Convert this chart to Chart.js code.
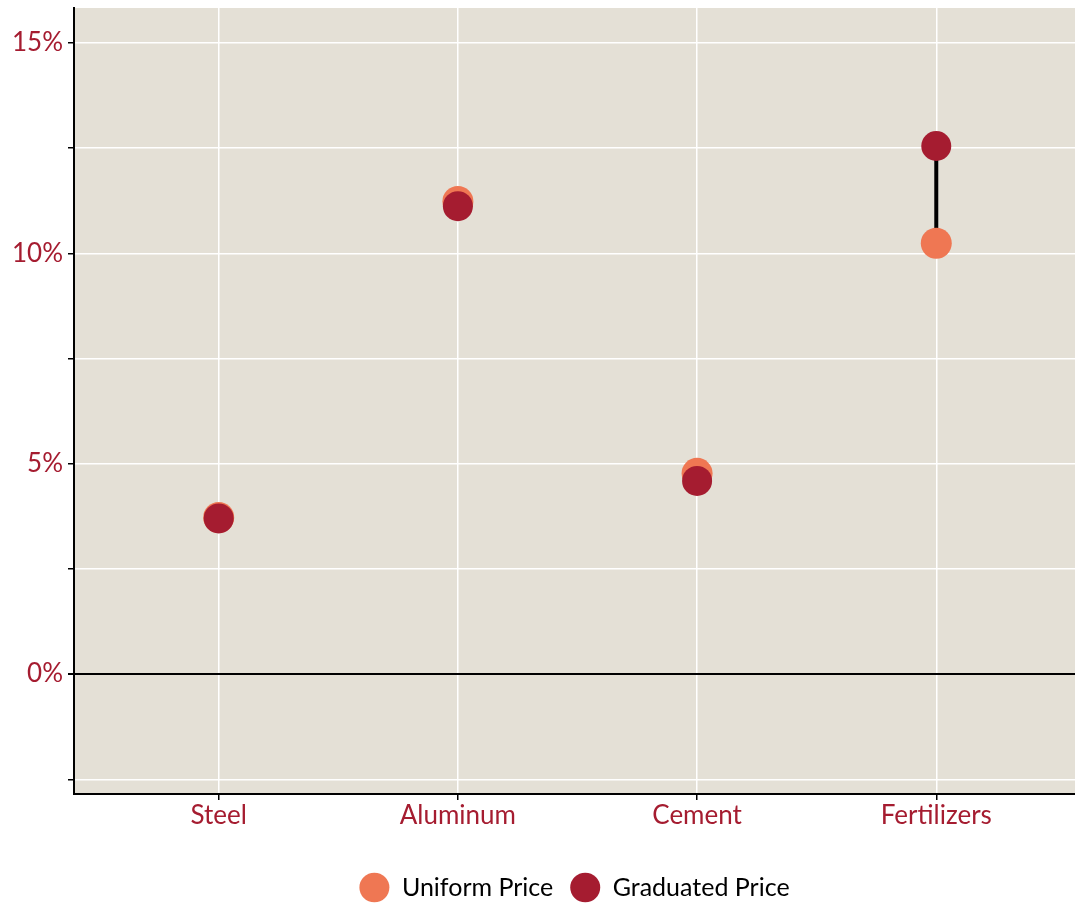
<!DOCTYPE html>
<html>
<head>
<meta charset="utf-8">
<script src="https://cdn.jsdelivr.net/npm/chart.js@4/dist/chart.umd.min.js"></script>
<style>
  html, body { margin: 0; padding: 0; background: #fff; }
  #wrap { width: 1075px; height: 904px; }
</style>
</head>
<body>
<div id="wrap"><canvas id="grafico"></canvas></div>
<script>
// data (percent)
var categories = ['Steel', 'Aluminum', 'Cement', 'Fertilizers'];
var uniformPrice = [3.72, 11.23, 4.77, 10.24];
var graduatedPrice = [3.70, 11.12, 4.59, 12.55];
var yTicks = [-2.5, 0, 2.5, 5, 7.5, 10, 12.5, 15];

var crimson = '#A51C30';
var orange = '#EF7753';
var fontFam = 'Lato, "Open Sans", sans-serif';

// plot panel background
var panelBg = {
    id: 'panelBg',
    beforeDraw: function(chart) {
        var a = chart.chartArea, c = chart.ctx;
        c.save();
        c.fillStyle = '#E4E0D6';
        c.fillRect(a.left, a.top, a.right - a.left, a.bottom - a.top);
        c.restore();
    }
};

function pts(vals) {
    return vals.map(function(v, i) { return {x: i + 1, y: v}; });
}

var datasets = [
    {
        type: 'scatter',
        label: 'Graduated Price',
        data: pts(graduatedPrice),
        backgroundColor: crimson,
        borderColor: crimson,
        pointRadius: 15,
        borderWidth: 0,
        order: 1
    },
    {
        type: 'scatter',
        label: 'Uniform Price',
        data: pts(uniformPrice),
        backgroundColor: orange,
        borderColor: orange,
        pointRadius: 15.5,
        borderWidth: 0,
        order: 2
    }
];

// black segment between the two prices of each category
categories.forEach(function(cat, i) {
    datasets.push({
        type: 'line',
        label: 'seg ' + cat,
        data: [{x: i + 1, y: uniformPrice[i]}, {x: i + 1, y: graduatedPrice[i]}],
        borderColor: '#000',
        borderWidth: 4,
        pointRadius: 0,
        fill: false,
        order: 3
    });
});

var ctx = document.getElementById('grafico').getContext('2d');
var grafico = new Chart(ctx, {
    type: 'scatter',
    data: { datasets: datasets },
    plugins: [panelBg],
    options: {
        responsive: true,
        maintainAspectRatio: false,
        animation: false,
        events: [],
        layout: { autoPadding: false, padding: { top: 8, right: 0, left: 0, bottom: -6 } },
        scales: {
            x: {
                type: 'linear',
                min: 0.395,
                max: 4.58,
                afterBuildTicks: function(s) {
                    s.ticks = categories.map(function(c, i) { return {value: i + 1}; });
                },
                afterFit: function(s) {
                    s.paddingLeft = 0;
                    s.paddingRight = 0;
                    s.height = 64;
                },
                ticks: {
                    color: crimson,
                    font: { family: fontFam, size: 26 },
                    padding: 0,
                    callback: function(v) { return categories[v - 1]; }
                },
                grid: {
                    color: '#FFFFFF',
                    lineWidth: 1.5,
                    tickColor: '#000',
                    tickLength: 6
                },
                border: { display: true, color: '#000', width: 2 }
            },
            y: {
                min: -2.85,
                max: 15.83,
                afterBuildTicks: function(s) {
                    s.ticks = yTicks.map(function(v) { return {value: v}; });
                },
                afterFit: function(s) {
                    s.width = 74;
                    s.paddingTop = 0;
                    s.paddingBottom = 0;
                },
                ticks: {
                    color: crimson,
                    font: { family: fontFam, size: 26 },
                    padding: 5,
                    callback: function(v) { return v % 5 === 0 ? v + '%' : ''; }
                },
                grid: {
                    color: function(c) { return c.tick && c.tick.value === 0 ? '#000' : '#FFFFFF'; },
                    lineWidth: function(c) { return c.tick && c.tick.value === 0 ? 2 : 1.5; },
                    tickColor: '#000',
                    tickLength: 6
                },
                border: { display: true, color: '#000', width: 2 }
            }
        },
        plugins: {
            tooltip: { enabled: false },
            legend: {
                position: 'bottom',
                fullSize: false,
                labels: {
                    usePointStyle: true,
                    pointStyle: 'circle',
                    pointStyleWidth: 30,
                    boxWidth: 30,
                    boxHeight: 21,
                    padding: 17,
                    color: '#000',
                    font: { family: fontFam, size: 25 },
                    filter: function(item) { return item.text.indexOf('seg') !== 0; },
                    sort: function(a, b) { return b.datasetIndex - a.datasetIndex; }
                }
            }
        }
    }
});
</script>
</body>
</html>
